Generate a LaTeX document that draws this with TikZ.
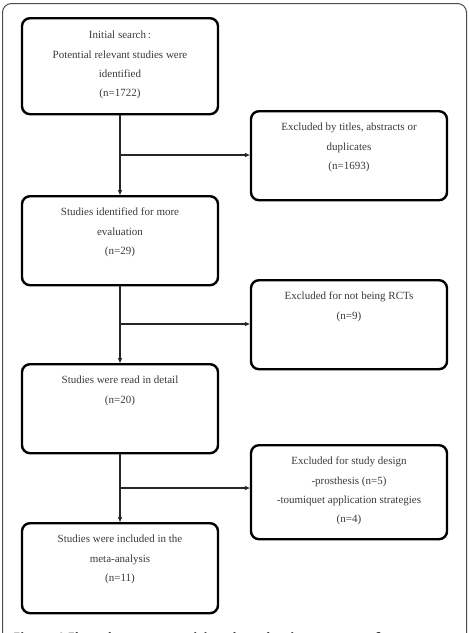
\documentclass[tikz,border=0pt]{standalone}
\usepackage{fontspec}
\setmainfont{Liberation Serif}
\newfontfamily\capfont{Open Sans}
\usetikzlibrary{arrows.meta}
\definecolor{txtgrey}{HTML}{3A3A3A}
\tikzset{
  box/.style={draw=black, line width=2.4pt, rounded corners=8pt, minimum width=196pt, inner sep=0pt, anchor=north},
  txt/.style={anchor=north, align=center, text=txtgrey, font=\fontsize{11}{19.3}\selectfont, inner sep=0pt},
  conn/.style={draw=black!85, line width=1.1pt, -{Triangle[length=5pt,width=4pt]}},
}
\begin{document}
\begin{tikzpicture}[x=1pt,y=-1pt]
\useasboundingbox (0,0) rectangle (469,633);
\clip (0,0) rectangle (469,633);
\draw[black!70, line width=1pt, rounded corners=9pt] (2.5,3.5) rectangle (466.5,680);
% main boxes
\node[box, minimum height=96pt] (b1) at (120,17) {};
\node[box, minimum height=89pt] (b2) at (120,195) {};
\node[box, minimum height=89pt] (b3) at (120,363) {};
\node[box, minimum height=90pt] (b4) at (120,522) {};
% exclusion boxes
\node[box, minimum height=89pt] (e1) at (349,110) {};
\node[box, minimum height=89pt] (e2) at (349,279) {};
\node[box, minimum height=94pt] (e3) at (349,444) {};
% texts
\node[txt] (t1) at (120,31) {Initial search\,:\\Potential relevant studies were\\identified\\(n=1722)};
\node[txt] (t2) at (120,208) {Studies identified for more\\evaluation\\(n=29)};
\node[txt] (t3) at (120,376) {Studies were read in detail\\(n=20)};
\node[txt] (t4) at (120,535) {Studies were included in the\\meta-analysis\\(n=11)};
\node[txt] (u1) at (349,123) {Excluded by titles, abstracts or\\duplicates\\(n=1693)};
\node[txt] (u2) at (349,292) {Excluded for not being RCTs\\(n=9)};
\node[txt] (u3) at (349,457) {Excluded for study design\\-prosthesis (n=5)\\-toumiquet application strategies\\(n=4)};
% connectors
\coordinate (j1) at (b1.south |- 0,155);
\coordinate (j2) at (b2.south |- 0,324);
\coordinate (j3) at (b3.south |- 0,488);
\draw[conn] (b1.south) -- (b2.north);
\draw[conn] (b2.south) -- (b3.north);
\draw[conn] (b3.south) -- (b4.north);
\draw[conn] (j1) -- (j1 -| e1.west);
\draw[conn] (j2) -- (j2 -| e2.west);
\draw[conn] (j3) -- (j3 -| e3.west);
% caption (cut off at the picture's lower edge, as in the reference)
\node[anchor=base west, inner sep=0pt, font=\capfont\bfseries\fontsize{13}{15}\selectfont, text=black!85] (cap) at (13,642) {Figure 1 Flow chart summarizing the selection process of};
\end{tikzpicture}
\end{document}
